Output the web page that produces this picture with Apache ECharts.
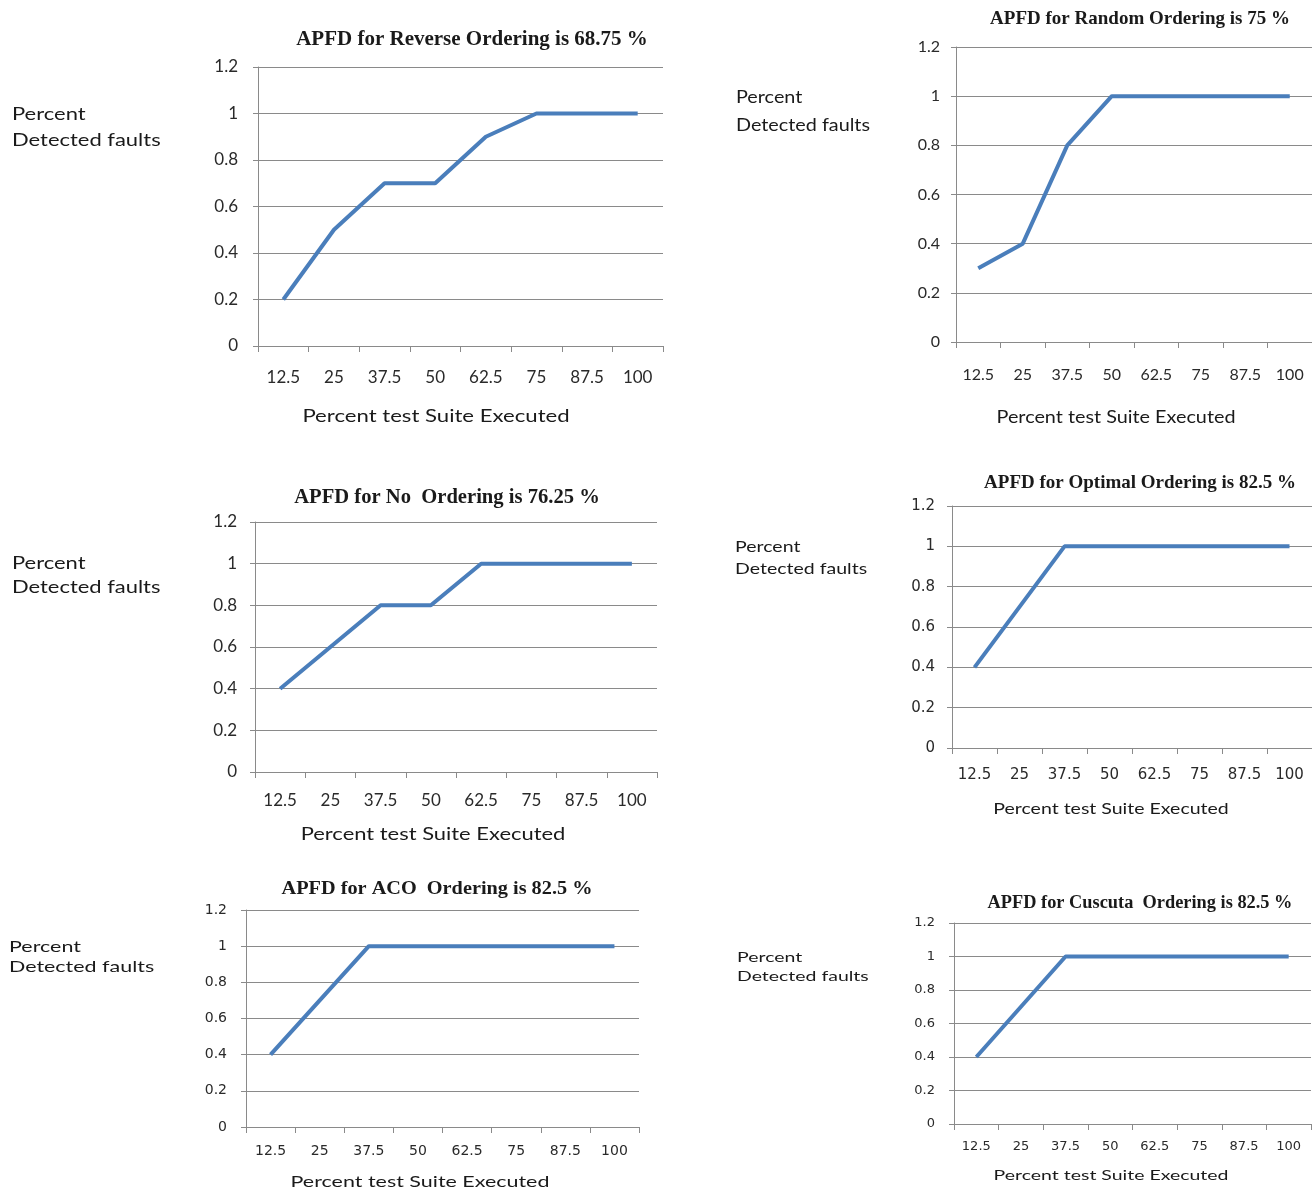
<!DOCTYPE html>
<html><head><meta charset="utf-8">
<script src="https://cdn.jsdelivr.net/npm/echarts@6/dist/echarts.min.js"></script>
<style>html,body{margin:0;padding:0;background:#fff}#c{width:1312px;height:1189px}</style>
</head><body><div id="c"></div>
<script>
const categories = ['12.5','25','37.5','50','62.5','75','87.5','100'];
const reverseValues = [0.2,0.5,0.7,0.7,0.9,1,1,1];
const randomValues  = [0.3,0.4,0.8,1,1,1,1,1];
const noValues      = [0.4,0.6,0.8,0.8,1,1,1,1];
const optimalValues = [0.4,0.7,1,1,1,1,1,1];
const acoValues     = [0.4,0.7,1,1,1,1,1,1];
const cuscutaValues = [0.4,0.7,1,1,1,1,1,1];
const titles = ['APFD for Reverse Ordering is 68.75 %','APFD for Random Ordering is 75 %','APFD for No  Ordering is 76.25 %','APFD for Optimal Ordering is 82.5 %','APFD for ACO  Ordering is 82.5 %','APFD for Cuscuta  Ordering is 82.5 %'];
const yName = ['Percent','Detected faults'];
const xName = 'Percent test Suite Executed';

const seriesData = [reverseValues, randomValues, noValues, optimalValues, acoValues, cuscutaValues];
// layout per panel: grid box, title [x,y,size,scaleX], y-name [x,y1,y2,size,scaleX], x-name [x,y,size,scaleX], tick font/family, margins
const L = [
 {g:[258,67,405,279], t:[472,40,21,1.0], yn:[12,114,140,18,1.22], xn:[436,416,18,1.23], tf:17, ff:'Lato', xm:23, ym:20},
 {g:[956,47,362,295], t:[1140,19,19,1.0], yn:[736,97,125,18,1.1], xn:[1116,417,18,1.1], tf:16, ff:'Lato', xm:25, ym:16},
 {g:[255,522,402,250], t:[447,498,20,1.03], yn:[12,564,588,17,1.29], xn:[433,835,17,1.29], tf:17, ff:'Lato', xm:20, ym:18},
 {g:[952,506,360,242], t:[1140,483,19,1.0], yn:[735,547,569,16,1.22], xn:[1111,809,16,1.22], tf:15, ff:'DejaVu Sans', xm:20, ym:17},
 {g:[246,910,393,217], t:[437,889,19.5,1.04], yn:[9,947,967,15,1.43], xn:[420,1182,15,1.43], tf:14, ff:'DejaVu Sans', xm:17, ym:19},
 {g:[954,923,357,201], t:[1140,903,18,1.02], yn:[737,957,976,14,1.39], xn:[1111,1175,14,1.39], tf:13, ff:'DejaVu Sans', xm:16, ym:19}
];
const sans = 'Lato, "Open Sans", sans-serif';
const grid=[], xAxis=[], yAxis=[], series=[], graphic=[];
function txt(x,y,s,size,sx,align,family,weight){
  return {type:'text', x:x, y:y, scaleX:sx, scaleY:1, originX:0, originY:0, silent:true,
    style:{text:s, textAlign:align, textVerticalAlign:'middle', font:(weight||'normal')+' '+size+'px '+family, fill:'#1a1a1a'}};
}
L.forEach((p,i)=>{
  grid.push({left:p.g[0], top:p.g[1], width:p.g[2], height:p.g[3], containLabel:false});
  xAxis.push({type:'category', gridIndex:i, data:categories, boundaryGap:true,
    axisLine:{lineStyle:{color:'#8a8a8a',width:1}},
    axisTick:{show:true,length:6,lineStyle:{color:'#8a8a8a'}},
    axisLabel:{color:'#2a2a2a',fontSize:p.tf,fontFamily:p.ff,margin:p.xm},
    splitLine:{show:false}});
  yAxis.push({type:'value', gridIndex:i, min:0, max:1.2, interval:0.2,
    axisLine:{show:true,lineStyle:{color:'#8a8a8a',width:1}},
    axisTick:{show:true,length:5,lineStyle:{color:'#8a8a8a'}},
    axisLabel:{color:'#2a2a2a',fontSize:p.tf,fontFamily:p.ff,margin:p.ym,formatter:v=>String(Math.round(v*10)/10)},
    splitLine:{show:true,lineStyle:{color:'#8a8a8a',width:1}}});
  series.push({type:'line', xAxisIndex:i, yAxisIndex:i, data:seriesData[i], showSymbol:false, symbol:'none',
    lineStyle:{color:'#4a7ebb',width:4}, itemStyle:{color:'#4a7ebb'}, animation:false});
  graphic.push(txt(p.t[0],p.t[1],titles[i],p.t[2],p.t[3],'center','"Liberation Serif", "Times New Roman", serif','bold'));
  graphic.push(txt(p.yn[0],p.yn[1],yName[0],p.yn[3],p.yn[4],'left',sans));
  graphic.push(txt(p.yn[0],p.yn[2],yName[1],p.yn[3],p.yn[4],'left',sans));
  graphic.push(txt(p.xn[0],p.xn[1],xName,p.xn[2],p.xn[3],'center',sans));
});
const chart = echarts.init(document.getElementById('c'));
chart.setOption({backgroundColor:'#fff', animation:false, grid, xAxis, yAxis, series, graphic});
</script></body></html>
